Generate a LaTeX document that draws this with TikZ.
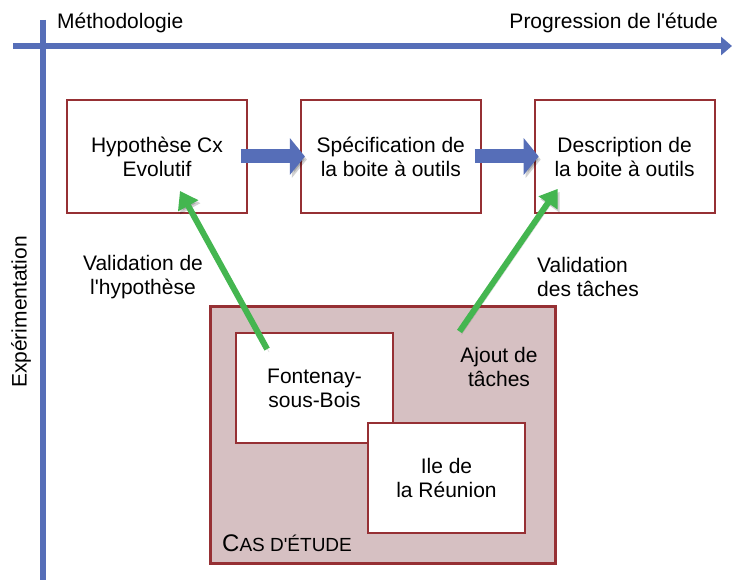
\documentclass[tikz,border=0pt]{standalone}
\usepackage{fontspec}
\setmainfont{Liberation Sans}
\usetikzlibrary{positioning,arrows.meta}
\definecolor{axisblue}{RGB}{86,110,184}
\definecolor{checkgreen}{RGB}{68,182,80}
\definecolor{boxred}{RGB}{150,48,52}
\definecolor{casefill}{RGB}{214,192,194}
\tikzset{
  stepbox/.style={draw=boxred,line width=1.8pt,fill=white,minimum width=180pt,minimum height=113pt,align=center},
  sitebox/.style={draw=boxred,line width=1.8pt,fill=white,minimum width=157pt,minimum height=110pt,align=center},
  softshadow/.style={preaction={draw=black,opacity=.18,transform canvas={shift={(2,3)}}}},
  flow/.style={draw=axisblue,line width=14pt,-{Triangle[width=36pt,length=15pt]},softshadow},
  check/.style={draw=checkgreen,line width=6pt,-{Triangle[width=22pt,length=17pt]},softshadow},
  axis/.style={draw=axisblue,line width=6pt}
}
\begin{document}
\begin{tikzpicture}[x=1pt,y=-1pt,font=\fontsize{21}{24}\selectfont]
  \useasboundingbox (0,0) rectangle (732,580);
  % axes
  \coordinate (xstart) at (13,46);
  \coordinate (xend) at (732,46);
  \coordinate (ystart) at (43,20);
  \coordinate (yend) at (43,580);
  \draw[axis] (ystart) -- (yend);
  \draw[axis,-{Triangle[width=18pt,length=11pt]}] (xstart) -- (xend);
  \node[anchor=base west,inner sep=0pt] (methodo) at (57,29) {Méthodologie};
  \node[anchor=base east,inner sep=0pt] (progress) at (718,29) {Progression de l\textquotesingle étude};
  \node[rotate=90] (experim) at (21,312) {Expérimentation};
  % steps
  \node[stepbox] (hyp) at (157,156.5) {Hypothèse Cx\\Evolutif};
  \node[stepbox,right=52pt of hyp] (spec) {Spécification de\\la boite à outils};
  \node[stepbox,right=52pt of spec] (desc) {Description de\\la boite à outils};
  \draw[flow] ([xshift=-7pt]hyp.east) -- ([xshift=5pt]spec.west);
  \draw[flow] ([xshift=-7pt]spec.east) -- ([xshift=5pt]desc.west);
  % case studies
  \node[draw=boxred,line width=3pt,fill=casefill,minimum width=345pt,minimum height=256pt] (cas) at (382.5,435) {};
  \node[sitebox] (fontenay) at (314.5,388) {Fontenay-\\sous-Bois};
  \node[sitebox] (reunion) at (446.5,478) {Ile de\\la Réunion};
  \node[anchor=base west,inner sep=0pt,font=\fontsize{24}{26}\selectfont] (caslabel) at (222,551) {C{\fontsize{19}{22}\selectfont AS D\textquotesingle ÉTUDE}};
  \node[align=center] (ajout) at (499,367) {Ajout de\\tâches};
  % validations
  \coordinate (hypin) at ([shift={(23,-23)}]hyp.south);
  \coordinate (fontout) at ([shift={(32,17)}]fontenay.north west);
  \coordinate (descin) at ([shift={(-67,-25)}]desc.south);
  \coordinate (casout) at ([shift={(-97,26)}]cas.north east);
  \draw[check] (fontout) -- (hypin);
  \draw[check] (casout) -- (descin);
  \node[align=center] (valhyp) at (143,277) {Validation de\\l\textquotesingle hypothèse};
  \node[align=left] (valtask) at (588,277) {Validation\\des tâches};
\end{tikzpicture}
\end{document}
